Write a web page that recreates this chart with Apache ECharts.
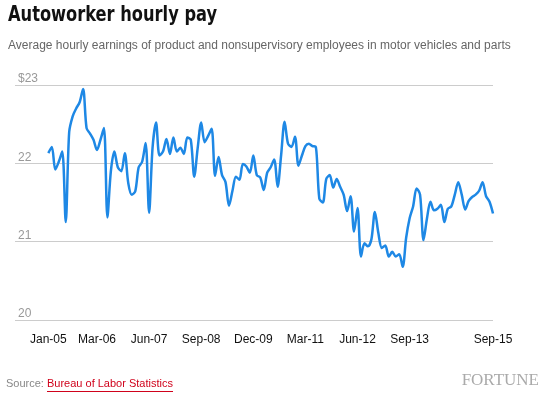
<!DOCTYPE html>
<html><head><meta charset="utf-8">
<script src="https://cdn.jsdelivr.net/npm/echarts@6/dist/echarts.min.js"></script>
<style>html,body{margin:0;padding:0;background:#fff}#c{width:545px;height:400px}</style>
</head><body><div id="c"></div>
<script>
const startYear = 2005;
const monthNames = ['Jan','Feb','Mar','Apr','May','Jun','Jul','Aug','Sep','Oct','Nov','Dec'];
const pay = [22.13,22.21,21.92,22.02,22.15,21.25,22.4,22.6,22.7,22.78,22.95,22.45,22.38,22.3,22.17,22.3,22.45,21.31,21.9,22.15,
21.95,21.9,22.13,21.75,21.6,21.64,21.95,22.02,22.26,21.37,22.2,22.52,22.1,22.15,22.31,22.12,22.33,22.15,22.2,22.12,
22.33,22.3,21.83,22.2,22.52,22.27,22.35,22.44,21.84,22.08,21.85,21.76,21.46,21.65,21.83,21.79,21.99,21.96,21.88,22.1,
21.85,21.82,21.66,21.88,21.95,22.05,21.7,22.1,22.53,22.25,22.21,22.34,21.97,22.1,22.22,22.25,22.22,22.21,21.55,21.5,
21.8,21.85,21.69,21.8,21.7,21.6,21.39,21.58,21.13,21.43,20.81,20.98,20.94,21.03,21.38,21.11,20.92,20.95,20.81,20.87,
20.81,20.84,20.68,21.05,21.3,21.45,21.68,21.6,21.02,21.3,21.51,21.4,21.42,21.47,21.25,21.42,21.45,21.6,21.76,21.6,
21.41,21.52,21.57,21.6,21.65,21.76,21.58,21.51,21.36];
const tickIdx = [0,14,29,44,59,74,89,104,128];
const yTicks = [20,21,22,23];
const months = pay.map((v,i)=>monthNames[i%12]+'-'+String((startYear+Math.floor(i/12))%100).padStart(2,'0'));
const chart = echarts.init(document.getElementById('c'));
chart.setOption({
  animation:false,
  graphic:[
    {type:'text',x:8,y:5,scaleX:0.86,style:{text:'Autoworker hourly pay',font:'bold 21px "DejaVu Sans Condensed", sans-serif',fill:'#111'}},
    {type:'text',left:8,top:40,style:{text:'Average hourly earnings of product and nonsupervisory employees in motor vehicles and parts',font:'12px "Helvetica Neue", "Liberation Sans", sans-serif',fill:'#666'}},
    {type:'text',left:6,top:378,style:{text:'Source: ',font:'11px "Liberation Sans", sans-serif',fill:'#888'}},
    {type:'text',left:47,top:378,style:{text:'Bureau of Labor Statistics',font:'11px "Liberation Sans", sans-serif',fill:'#d0021b'}},
    {type:'rect',left:47,top:391,shape:{width:126,height:1},style:{fill:'#d0021b'}},
    {type:'text',right:6,top:372,style:{text:'FORTUNE',font:'17px "Liberation Serif", "DejaVu Serif", serif',fill:'#aaa'}}
  ],
  grid:{left:15,right:52,top:85,bottom:80},
  xAxis:{type:'value',min:-9.6,max:128,
    axisLine:{show:false},axisTick:{show:false},splitLine:{show:false},
    axisLabel:{customValues:tickIdx,formatter:v=>months[Math.round(v)]||'',color:'#111',fontSize:12,margin:14,
      fontFamily:'"Liberation Sans", sans-serif'}},
  yAxis:{type:'value',min:20,max:23,interval:1,
    axisLine:{show:false},axisTick:{show:false},
    splitLine:{lineStyle:{color:'#ccc',width:1}},
    axisLabel:{inside:true,verticalAlign:'bottom',margin:3,color:'#999',fontSize:12,
      formatter:v=>yTicks.indexOf(v)===yTicks.length-1?'$'+v:String(v)}},
  series:[{type:'line',data:pay.map((v,i)=>[i,v]),smooth:0.3,showSymbol:false,
    lineStyle:{color:'#1e88e5',width:2.5}}]
});
</script></body></html>
